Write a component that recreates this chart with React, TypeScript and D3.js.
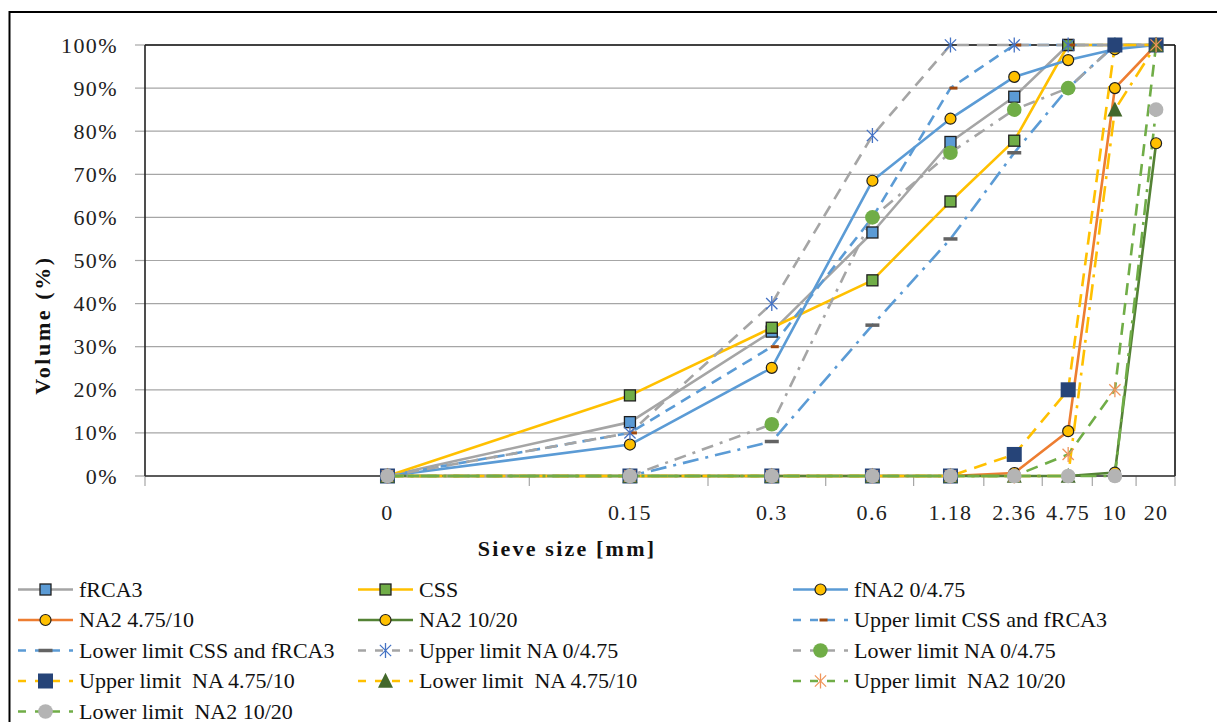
import React from "react";
import * as d3 from "d3";

// ---------- data ----------
const sieveLabels = ["0", "0.15", "0.3", "0.6", "1.18", "2.36", "4.75", "10", "20"];
const yTicks = [0, 10, 20, 30, 40, 50, 60, 70, 80, 90, 100];

const fRCA3 = [0, 12.5, 33.5, 56.5, 77.5, 88, 100, 100, 100];
const CSS = [0, 18.7, 34.4, 45.4, 63.7, 77.8, 100, 100, 100];
const fNA2_0_475 = [0, 7.3, 25.1, 68.5, 82.9, 92.6, 96.5, 99, 100];
const NA2_475_10 = [0, 0, 0, 0, 0, 0.7, 10.4, 90, 100];
const NA2_10_20 = [0, 0, 0, 0, 0, 0, 0, 0.8, 77.2];
const upperCSS = [0, 10, 30, 60, 90, 100, 100, 100, 100];
const lowerCSS = [0, 0, 8, 35, 55, 75, 90, 100, 100];
const upperNA0475 = [0, 10, 40, 79, 100, 100, 100, 100, 100];
const lowerNA0475 = [0, 0, 12, 60, 75, 85, 90, 100, 100];
const upperNA47510 = [0, 0, 0, 0, 0, 5, 20, 100, 100];
const lowerNA47510 = [0, 0, 0, 0, 0, 0, 0, 85, 100];
const upperNA21020 = [0, 0, 0, 0, 0, 0, 5, 20, 100];
const lowerNA21020 = [0, 0, 0, 0, 0, 0, 0, 0, 85];

type Marker =
  | { type: "square"; size: number; fill: string; stroke?: string }
  | { type: "circle"; r: number; fill: string; stroke?: string }
  | { type: "star"; size: number; stroke: string }
  | { type: "triangle"; size: number; fill: string }
  | { type: "dash"; w: number; h: number; fill: string; dx?: number };

interface Series {
  name: string;
  values: number[];
  color: string;
  dash?: string;
  marker: Marker;
}

const GRAY = "#A5A5A5";
const BLUE = "#5B9BD5";
const YELLOW = "#FFC000";
const ORANGE = "#ED7D31";
const DKGREEN = "#548235";
const GREEN = "#70AD47";

const series: Series[] = [
  { name: "fRCA3", values: fRCA3, color: GRAY, marker: { type: "square", size: 11, fill: BLUE, stroke: "#1f1f1f" } },
  { name: "CSS", values: CSS, color: YELLOW, marker: { type: "square", size: 11, fill: GREEN, stroke: "#1f1f1f" } },
  { name: "fNA2 0/4.75", values: fNA2_0_475, color: BLUE, marker: { type: "circle", r: 5.5, fill: YELLOW, stroke: "#1f1f1f" } },
  { name: "NA2 4.75/10", values: NA2_475_10, color: ORANGE, marker: { type: "circle", r: 5.5, fill: YELLOW, stroke: "#1f1f1f" } },
  { name: "NA2 10/20", values: NA2_10_20, color: DKGREEN, marker: { type: "circle", r: 5.5, fill: YELLOW, stroke: "#1f1f1f" } },
  { name: "Upper limit CSS and fRCA3", values: upperCSS, color: BLUE, dash: "11,7", marker: { type: "dash", w: 8, h: 3, fill: "#9E480E", dx: 3 } },
  { name: "Lower limit CSS and fRCA3", values: lowerCSS, color: BLUE, dash: "16,7,3,7", marker: { type: "dash", w: 14, h: 3.5, fill: "#636363" } },
  { name: "Upper limit NA 0/4.75", values: upperNA0475, color: GRAY, dash: "12,8", marker: { type: "star", size: 15, stroke: "#4472C4" } },
  { name: "Lower limit NA 0/4.75", values: lowerNA0475, color: GRAY, dash: "12,7,3,7", marker: { type: "circle", r: 7.3, fill: GREEN } },
  { name: "Upper limit  NA 4.75/10", values: upperNA47510, color: YELLOW, dash: "13,8", marker: { type: "square", size: 15, fill: "#264478" } },
  { name: "Lower limit  NA 4.75/10", values: lowerNA47510, color: YELLOW, dash: "16,7,3,7", marker: { type: "triangle", size: 15, fill: "#43682B" } },
  { name: "Upper limit  NA2 10/20", values: upperNA21020, color: GREEN, dash: "12,8", marker: { type: "star", size: 15, stroke: "#F0955A" } },
  { name: "Lower limit  NA2 10/20", values: lowerNA21020, color: GREEN, dash: "16,7,3,7", marker: { type: "circle", r: 7.3, fill: "#B4B4B4" } },
];

// ---------- layout ----------
const W = 1217;
const H = 722;
const plot = { left: 145, right: 1175, top: 45, bottom: 476 };

const catIndex = sieveLabels.map((_, i) => i + 1);
const x = d3.scaleLog().domain([0.5, sieveLabels.length + 0.5]).range([plot.left, plot.right]);
const y = d3.scaleLinear().domain([0, 100]).range([plot.bottom, plot.top]);
const xTickVals = d3.range(0, sieveLabels.length + 1).map((i) => i + 0.5);

function MarkerShape({ m, cx, cy }: { m: Marker; cx: number; cy: number }) {
  switch (m.type) {
    case "square":
      return (
        <rect
          x={cx - m.size / 2}
          y={cy - m.size / 2}
          width={m.size}
          height={m.size}
          fill={m.fill}
          stroke={m.stroke || "none"}
          strokeWidth={m.stroke ? 1.3 : 0}
        />
      );
    case "circle":
      return <circle cx={cx} cy={cy} r={m.r} fill={m.fill} stroke={m.stroke || "none"} strokeWidth={m.stroke ? 1.2 : 0} />;
    case "star": {
      const s = m.size / 2;
      const d = s * 0.75;
      return (
        <g stroke={m.stroke} strokeWidth={1.3} fill="none">
          <line x1={cx} y1={cy - s} x2={cx} y2={cy + s} />
          <line x1={cx - d} y1={cy - d} x2={cx + d} y2={cy + d} />
          <line x1={cx - d} y1={cy + d} x2={cx + d} y2={cy - d} />
        </g>
      );
    }
    case "triangle": {
      const s = m.size;
      const p = `${cx},${cy - s * 0.55} ${cx + s / 2},${cy + s * 0.45} ${cx - s / 2},${cy + s * 0.45}`;
      return <polygon points={p} fill={m.fill} />;
    }
    case "dash":
      return <rect x={cx - m.w / 2 + (m.dx || 0)} y={cy - m.h / 2} width={m.w} height={m.h} fill={m.fill} />;
  }
  return null;
}

const line = d3
  .line<number>()
  .x((_, i) => x(catIndex[i]))
  .y((v) => y(v));

const legendCols = [18, 358, 793];
const legendRow0 = 589.5;
const legendRowStep = 30.5;

const SERIF = { fontFamily: "Liberation Serif" };

export default function App() {
  return (
    <svg
      width={W}
      height={H}
      viewBox={`0 0 ${W} ${H}`}
      style={{ position: "absolute", left: 0, top: 0, background: "#fff" }}
    >
      <rect x={0} y={0} width={W} height={H} fill="#fff" />
      {/* outer frame */}
      <rect x={9.5} y={12} width={W + 20} height={H + 20} fill="none" stroke="#000" strokeWidth={2} />

      {/* gridlines */}
      {yTicks.map((t) => (
        <line key={"g" + t} x1={plot.left} x2={plot.right} y1={y(t)} y2={y(t)} stroke="#A6A6A6" strokeWidth={1.2} />
      ))}
      {/* y ticks */}
      {yTicks.map((t) => (
        <line key={"yt" + t} x1={plot.left - 10} x2={plot.left} y1={y(t)} y2={y(t)} stroke="#A6A6A6" strokeWidth={1.2} />
      ))}
      {/* x ticks */}
      {xTickVals.map((t) => (
        <line key={"xt" + t} x1={x(t)} x2={x(t)} y1={plot.bottom} y2={plot.bottom + 10} stroke="#A6A6A6" strokeWidth={1.2} />
      ))}
      {/* plot border */}
      <line x1={plot.left} x2={plot.right} y1={plot.top} y2={plot.top} stroke="#111" strokeWidth={1.6} />
      <line x1={plot.right} x2={plot.right} y1={plot.top} y2={plot.bottom} stroke="#111" strokeWidth={1.6} />
      <line x1={plot.left} x2={plot.left} y1={plot.top} y2={plot.bottom} stroke="#222" strokeWidth={1.6} />
      <line x1={plot.left} x2={plot.right} y1={plot.bottom} y2={plot.bottom} stroke="#333" strokeWidth={1.6} />

      {/* y tick labels */}
      {yTicks.map((t) => (
        <text key={"yl" + t} x={118} y={y(t) + 7.5} textAnchor="end" fontSize={22} letterSpacing={1.4} fill="#222" style={SERIF}>
          {t + "%"}
        </text>
      ))}
      {/* x tick labels */}
      {sieveLabels.map((l, i) => (
        <text key={"xl" + l} x={x(catIndex[i])} y={520} textAnchor="middle" fontSize={22} letterSpacing={1.4} fill="#222" style={SERIF}>
          {l}
        </text>
      ))}

      {/* axis titles */}
      <text
        transform={`translate(50,${325}) rotate(-90)`}
        textAnchor="middle"
        fontSize={22}
        fontWeight="bold"
        letterSpacing={2.6}
        fill="#111"
        style={SERIF}
      >
        Volume (%)
      </text>
      <text x={567} y={556} textAnchor="middle" fontSize={22} fontWeight="bold" letterSpacing={2.2} fill="#111" style={SERIF}>
        Sieve size [mm]
      </text>

      {/* series lines */}
      {series.map((s) => (
        <path
          key={"p" + s.name}
          d={line(s.values) || ""}
          fill="none"
          stroke={s.color}
          strokeWidth={2.6}
          strokeDasharray={s.dash}
          strokeLinejoin="round"
        />
      ))}
      {/* markers */}
      {series.map((s) => (
        <g key={"m" + s.name}>
          {s.values.map((v, i) => (
            <MarkerShape key={i} m={s.marker} cx={x(catIndex[i])} cy={y(v)} />
          ))}
        </g>
      ))}

      {/* legend */}
      {series.map((s, i) => {
        const col = i % 3;
        const row = Math.floor(i / 3);
        const lx = legendCols[col];
        const ly = legendRow0 + row * legendRowStep;
        return (
          <g key={"lg" + s.name}>
            <line
              x1={lx}
              x2={lx + 55}
              y1={ly}
              y2={ly}
              stroke={s.color}
              strokeWidth={2.6}
              strokeDasharray={s.dash ? "8,9" : undefined}
            />
            <MarkerShape m={s.marker} cx={lx + 27.5} cy={ly} />
            <text x={lx + 61} y={ly + 7} fontSize={22} fill="#111" style={{ ...SERIF, whiteSpace: "pre" }}>
              {s.name}
            </text>
          </g>
        );
      })}
    </svg>
  );
}
